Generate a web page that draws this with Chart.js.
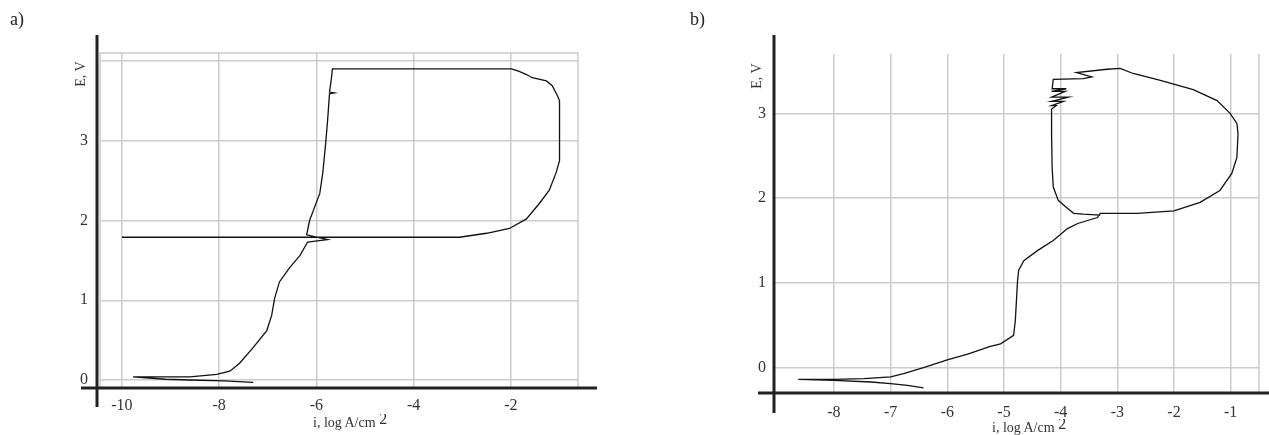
<!DOCTYPE html>
<html lang="en">
<head>
<meta charset="UTF-8">
<title>Polarization curves a) and b)</title>
<script src="https://cdn.jsdelivr.net/npm/chart.js"></script>
<style>
  body { margin: 0; width: 1269px; height: 435px; background: #fff; overflow: hidden; position: relative;
         font-family: "Liberation Serif", "DejaVu Serif", serif; color: #222; }
  canvas { position: absolute; top: 0; }
  #chartA { left: 0; }
  #chartB { left: 640px; }
  .panel { position: absolute; font-size: 18px; }
  .ev { position: absolute; width: 32px; height: 16px; line-height: 16px; font-size: 14px; text-align: center;
        transform: rotate(-90deg); color: #333; }
  .xt { position: absolute; font-size: 14px; line-height: 16px; height: 16px; overflow: hidden; color: #333; white-space: nowrap; }
  .xt span { font-size: 16px; position: relative; top: -3px; }
</style>
</head>
<body>
<canvas id="chartA" width="640" height="435"></canvas>
<canvas id="chartB" width="629" height="435"></canvas>

<div class="panel" style="left:10px; top:9px;">a)</div>
<div class="panel" style="left:690px; top:9px;">b)</div>
<div class="ev" style="left:65px; top:66px;">E, V</div>
<div class="ev" style="left:741px; top:68px;">E, V</div>
<div class="xt" style="left:313px; top:414px;">i, log A/cm <span>2</span></div>
<div class="xt" style="left:992px; top:419px;">i, log A/cm <span>2</span></div>

<script>
// ---- panel a) ----
const aLogI = [-7.3, -7.9, -8.6, -9.1, -9.77, -9.1, -8.6, -8.05, -7.78, -7.58, -7.31, -7.02, -6.92, -6.86,
  -6.76, -6.55, -6.34, -6.18, -5.77, -6.2, -6.14, -6.06, -5.93, -5.87, -5.81, -5.77, -5.73, -5.63,
  -5.73, -5.69, -5.67, -2.34, -1.99, -1.83, -1.68, -1.56, -1.27, -1.15, -1.04, -1.0, -1.0, -1.07, -1.21,
  -1.42, -1.68, -2.03, -2.5, -3.06, -4.0, -10.0];
const aE = [-0.03, -0.01, 0.0, 0.01, 0.04, 0.04, 0.04, 0.07, 0.11, 0.21, 0.40, 0.62, 0.81, 1.02,
  1.23, 1.41, 1.56, 1.73, 1.76, 1.82, 2.0, 2.13, 2.34, 2.59, 2.96, 3.25, 3.59, 3.60,
  3.61, 3.79, 3.9, 3.9, 3.9, 3.87, 3.83, 3.79, 3.75, 3.69, 3.56, 3.5, 2.75, 2.6, 2.38,
  2.21, 2.02, 1.9, 1.84, 1.79, 1.79, 1.79];
const aXTicks = [-10, -8, -6, -4, -2];
const aYTicks = [0, 1, 2, 3, 4];
const aYLabels = [0, 1, 2, 3];

// ---- panel b) ----
const bLogI = [-6.42, -6.7, -7.0, -7.35, -8.0, -8.63, -8.0, -7.47, -7.0, -6.77, -6.42, -6.0, -5.64, -5.24,
  -5.06, -4.83, -4.8, -4.78, -4.76, -4.74, -4.65, -4.41, -4.13, -3.88, -3.7, -3.35, -3.3, -2.65, -2.0,
  -1.54, -1.19, -0.98, -0.89, -0.87, -0.89, -1.01, -1.24, -1.66, -2.24, -2.72, -2.95, -3.18, -3.72,
  -3.45, -3.6, -4.13, -4.15, -3.9, -4.16, -3.92, -4.16, -3.86, -4.16, -3.95, -4.16, -4.08, -4.16,
  -4.16, -4.15, -4.13, -4.04, -3.88, -3.77, -3.6, -3.3];
const bE = [-0.24, -0.21, -0.19, -0.17, -0.15, -0.14, -0.14, -0.13, -0.11, -0.07, 0.0, 0.09, 0.16, 0.25,
  0.28, 0.38, 0.55, 0.79, 1.03, 1.15, 1.26, 1.38, 1.5, 1.64, 1.7, 1.77, 1.82, 1.82, 1.85,
  1.95, 2.09, 2.29, 2.48, 2.76, 2.88, 3.0, 3.15, 3.28, 3.39, 3.47, 3.53, 3.52, 3.48,
  3.43, 3.41, 3.40, 3.29, 3.29, 3.26, 3.26, 3.19, 3.19, 3.14, 3.14, 3.09, 3.09, 3.05,
  2.76, 2.36, 2.13, 1.97, 1.88, 1.82, 1.81, 1.80];
const bXTicks = [-8, -7, -6, -5, -4, -3, -2, -1];
const bYTicks = [0, 1, 2, 3];
const bYLabels = [0, 1, 2, 3];

Chart.defaults.font.family = '"Liberation Serif", "DejaVu Serif", serif';
Chart.defaults.font.size = 16;
Chart.defaults.color = '#333';

// black axes crossing past the plot, plus a light frame
const axisLines = {
  id: 'axisLines',
  beforeDatasetsDraw(chart, args, o) {
    const { ctx, chartArea: a } = chart;
    ctx.save();
    ctx.strokeStyle = '#cccccc';
    ctx.lineWidth = 1.5;
    if (o.frame) {
      ctx.strokeRect(a.left, a.top, a.width, a.height);
    } else {
      ctx.beginPath();
      ctx.moveTo(a.right, a.top);
      ctx.lineTo(a.right, a.bottom);
      ctx.stroke();
    }
    ctx.restore();
  },
  afterDraw(chart, args, o) {
    const { ctx, chartArea: a } = chart;
    ctx.save();
    ctx.strokeStyle = '#222';
    ctx.lineWidth = 3;
    ctx.beginPath();
    ctx.moveTo(a.left - o.yShift, a.top - o.up);
    ctx.lineTo(a.left - o.yShift, a.bottom + o.down);
    ctx.moveTo(a.left - o.leftExt, a.bottom);
    ctx.lineTo(a.right + o.rightExt, a.bottom);
    ctx.stroke();
    ctx.restore();
  }
};

function makeChart(id, xs, ys, cfg) {
  const pts = xs.map((x, i) => ({ x: x, y: ys[i] }));
  return new Chart(document.getElementById(id), {
    type: 'scatter',
    data: {
      datasets: [{
        data: pts,
        showLine: true,
        borderColor: '#111',
        borderWidth: 1.3,
        pointRadius: 0,
        tension: 0
      }]
    },
    options: {
      responsive: false,
      animation: false,
      layout: { padding: { top: cfg.top, right: cfg.right, left: 0, bottom: 0 } },
      plugins: {
        legend: { display: false },
        tooltip: { enabled: false },
        axisLines: cfg.axes
      },
      scales: {
        x: {
          type: 'linear',
          min: cfg.xMin, max: cfg.xMax,
          afterBuildTicks: s => { s.ticks = cfg.xTicks.map(v => ({ value: v })); },
          afterFit: s => { s.height = cfg.bottomH; },
          ticks: { padding: cfg.xPad, maxRotation: 0, callback: v => String(v) },
          grid: { color: '#cccccc', lineWidth: 1.5, drawTicks: false },
          border: { display: false }
        },
        y: {
          type: 'linear',
          min: cfg.yMin, max: cfg.yMax,
          afterBuildTicks: s => { s.ticks = cfg.yTicks.map(v => ({ value: v })); },
          afterFit: s => { s.width = cfg.leftW; },
          ticks: { padding: cfg.yPad, callback: v => cfg.yLabels.includes(v) ? String(v) : '' },
          grid: { color: '#cccccc', lineWidth: 1.5, drawTicks: false },
          border: { display: false }
        }
      }
    },
    plugins: [axisLines]
  });
}

makeChart('chartA', aLogI, aE, {
  xMin: -10.45, xMax: -0.62, yMin: -0.1, yMax: 4.1,
  xTicks: aXTicks, yTicks: aYTicks, yLabels: aYLabels,
  top: 53, right: 62, leftW: 100, bottomH: 47, xPad: 8, yPad: 12,
  axes: { frame: true, yShift: 3, up: 18, down: 19, leftExt: 19, rightExt: 19 }
});

makeChart('chartB', bLogI, bE, {
  xMin: -9.04, xMax: -0.5, yMin: -0.3, yMax: 3.7,
  xTicks: bXTicks, yTicks: bYTicks, yLabels: bYLabels,
  top: 54, right: 10, leftW: 135, bottomH: 42, xPad: 10, yPad: 9,
  axes: { frame: false, yShift: 1, up: 19, down: 20, leftExt: 17, rightExt: 12 }
});
</script>
</body>
</html>
